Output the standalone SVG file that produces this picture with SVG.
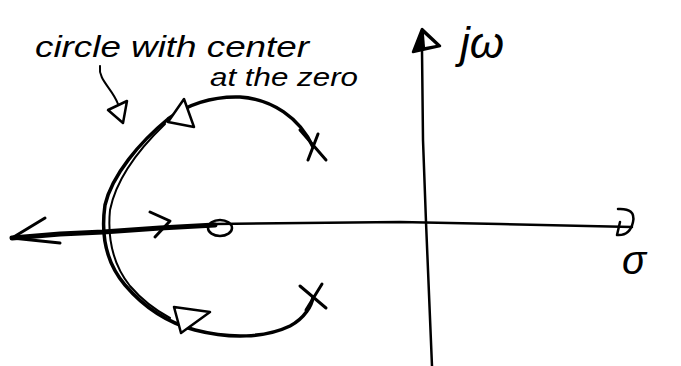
<svg xmlns="http://www.w3.org/2000/svg" width="681" height="366" viewBox="0 0 681 366">
<style>
.ink{fill:none;stroke:#000;stroke-linecap:round;stroke-linejoin:round}
.head{fill:#fff;stroke:#000;stroke-width:2.5;stroke-linejoin:round}
.hand{font-family:"Liberation Sans","DejaVu Sans",sans-serif;font-style:italic;fill:#000}
</style>
<rect width="681" height="366" fill="#fff"/>
<g id="axes">
  <path class="ink" stroke-width="2.5" d="M422,50 L423,140 L426,222 L432,366"/>
  <polygon class="head" points="422,29 413,52 440,46" style="fill:#000"/>
  <polygon points="424,34 436,45 425,47" fill="#fff"/>
  <path class="ink" stroke-width="2.5" d="M215,224 L400,222 L500,224 L632,227"/>
  <path class="ink" stroke-width="2.5" d="M618,209 Q636,208 633,222 Q630,236 617,235 L620,222"/>
</g>
<g id="locus">
  <path class="ink" stroke-width="3.5" d="M313,147 C300,118 272,99 240,97 C212,96 186,105 168,119 C140,142 112,175 105,205 C100,240 108,265 125,285 C142,305 165,322 195,330 C230,339 265,338 290,326 C305,318 312,305 313,297"/>
  <path class="ink" stroke-width="2" d="M165,124 C138,150 116,180 110,210 C107,242 114,266 130,286 C142,300 155,310 170,318"/>
  <polygon class="head" points="168,122 184,99 194,127"/>
  <polygon class="head" points="174,307 210,312 181,333"/>
  <path class="ink" stroke-width="5" d="M12,238 L60,234 L103,232 L160,228 L215,225"/>
  <path class="ink" stroke-width="3" d="M45,218 L12,238 L60,243"/>
  <path class="ink" stroke-width="3" d="M150,212 L170,221 L155,237"/>
</g>
<g id="poles">
  <path class="ink" stroke-width="3" d="M300,130 L326,160 M318,134 L308,160"/>
  <path class="ink" stroke-width="3" d="M300,286 L326,308 M322,284 L306,310"/>
</g>
<g id="zero">
  <ellipse class="ink" stroke-width="2.5" cx="220" cy="228" rx="12" ry="8"/>
</g>
<g id="annotation">
  <text class="hand" x="35" y="57" font-size="30" textLength="274" lengthAdjust="spacingAndGlyphs">circle with center</text>
  <text class="hand" x="210" y="86" font-size="25" textLength="148" lengthAdjust="spacingAndGlyphs">at the zero</text>
  <path class="ink" stroke-width="2" d="M100,66 C98,80 112,88 118,104"/>
  <polygon class="head" points="108,110 127,101 123,123"/>
</g>
<g id="labels">
  <text class="hand" x="460" y="58" font-size="44">jω</text>
  <text class="hand" x="622" y="274" font-size="40">σ</text>
</g>
</svg>
